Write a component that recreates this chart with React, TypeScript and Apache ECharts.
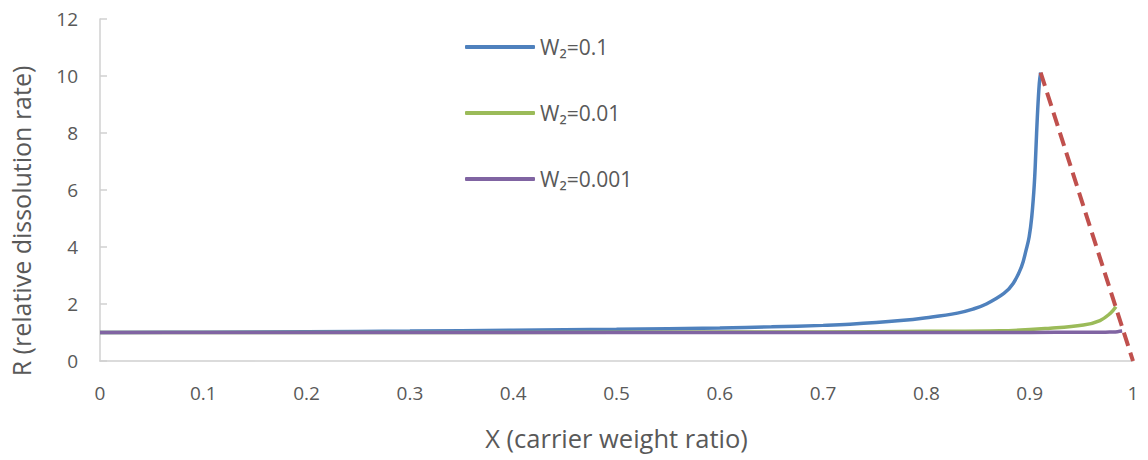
import React, { useEffect, useRef } from "react";
import * as echarts from "echarts";

const blueX = [0, 0.1, 0.2, 0.3, 0.4, 0.5, 0.6, 0.65, 0.7, 0.726, 0.775, 0.8, 0.83, 0.845, 0.858, 0.875, 0.884, 0.892, 0.8965, 0.8995, 0.902, 0.9045, 0.906, 0.9074, 0.9093, 0.9106];
const blueR = [1.0, 1.01, 1.03, 1.05, 1.08, 1.11, 1.16, 1.2, 1.25, 1.29, 1.42, 1.52, 1.68, 1.82, 2.0, 2.37, 2.72, 3.3, 3.89, 4.36, 5.06, 6.23, 7.4, 8.57, 9.74, 10.12];

const greenX = [0, 0.3, 0.5, 0.7, 0.8, 0.871, 0.92, 0.952, 0.968, 0.978, 0.9835];
const greenR = [1.0, 1.0, 1.01, 1.02, 1.04, 1.06, 1.15, 1.26, 1.42, 1.67, 1.9];

const purpleX = [0, 0.5, 0.9, 0.95, 0.97, 0.98, 0.985, 0.9895];
const purpleR = [1.0, 1.0, 1.0, 1.01, 1.01, 1.02, 1.03, 1.05];

const limitX = [0.9106, 1.0];
const limitR = [10.12, 0];

const seriesNames = ["W₂=0.1", "W₂=0.01", "W₂=0.001"];
const xTitle = "X (carrier weight ratio)";
const yTitle = "R (relative dissolution rate)";

const pairs = (xs: number[], ys: number[]) => xs.map((x, i) => [x, ys[i]]);

const FONT = "'Open Sans', 'Noto Sans', sans-serif";
const GREY = "#595959";

export default function App() {
  const ref = useRef<HTMLDivElement>(null);
  useEffect(() => {
    if (!ref.current) return;
    const chart = echarts.init(ref.current, undefined, { renderer: "svg" });
    const lineSeries = (name: string, xs: number[], ys: number[], color: string) => ({
      name,
      type: "line",
      data: pairs(xs, ys),
      symbol: "none",
      smooth: 0.4,
      lineStyle: { color, width: 3.5 },
      itemStyle: { color },
    });
    chart.setOption({
      animation: false,
      textStyle: { fontFamily: FONT },
      grid: { left: 100, right: 15, top: 19, bottom: 99, containLabel: false },
      legend: {
        data: seriesNames,
        orient: "vertical",
        left: 460,
        top: 30,
        icon: "roundRect",
        itemWidth: 70,
        itemHeight: 4,
        itemGap: 42,
        textStyle: { fontSize: 21, color: GREY, lineHeight: 24, fontFamily: FONT },
      },
      graphic: [
        {
          type: "text",
          x: 21,
          y: 221,
          rotation: Math.PI / 2,
          style: {
            text: yTitle,
            fontSize: 25,
            fontFamily: FONT,
            fill: GREY,
            align: "center",
            verticalAlign: "middle",
          },
        },
      ],
      xAxis: {
        type: "value",
        min: 0,
        max: 1,
        interval: 0.1,
        name: xTitle,
        nameLocation: "middle",
        nameGap: 64,
        nameTextStyle: { fontSize: 25.5, color: GREY, fontFamily: FONT },
        axisLine: { show: true, lineStyle: { color: "#d0d0d0", width: 1.5 } },
        axisTick: { show: false },
        splitLine: { show: false },
        axisLabel: {
          fontSize: 19,
          color: GREY,
          margin: 22,
          formatter: (v: number) => String(Number(v.toFixed(1))),
        },
      },
      yAxis: {
        type: "value",
        min: 0,
        max: 12,
        interval: 2,
        axisLine: { show: true, lineStyle: { color: "#d0d0d0", width: 1.5 } },
        axisTick: { show: true, inside: true, length: 7, lineStyle: { color: "#d0d0d0", width: 1.5 } },
        splitLine: { show: false },
        axisLabel: { fontSize: 19, color: GREY, margin: 22 },
      },
      series: [
        lineSeries(seriesNames[0], blueX, blueR, "#4f81bd"),
        lineSeries(seriesNames[1], greenX, greenR, "#9bbb59"),
        lineSeries(seriesNames[2], purpleX, purpleR, "#8064a2"),
        {
          name: "limit",
          type: "line",
          data: pairs(limitX, limitR),
          symbol: "none",
          lineStyle: { color: "#c0504d", width: 4, type: [14, 7] },
          itemStyle: { color: "#c0504d" },
        },
      ],
    });
    return () => chart.dispose();
  }, []);
  return <div ref={ref} style={{ position: "absolute", left: 0, top: 0, width: 1148, height: 460 }} />;
}
